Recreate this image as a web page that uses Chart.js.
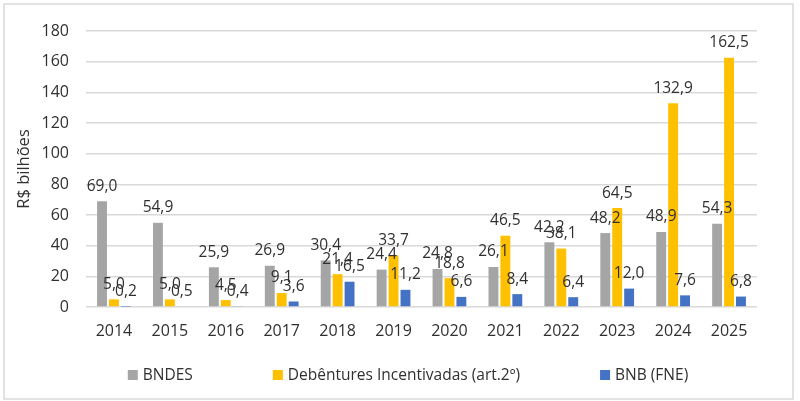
<!DOCTYPE html>
<html>
<head>
<meta charset="utf-8">
<script src="https://cdn.jsdelivr.net/npm/chart.js@4"></script>
<style>
  html, body { margin: 0; padding: 0; background: #ffffff; }
  #wrap { width: 800px; height: 401px; }
</style>
</head>
<body>
<div id="wrap"><canvas id="c" width="800" height="401"></canvas></div>
<script>
const years = ['2014','2015','2016','2017','2018','2019','2020','2021','2022','2023','2024','2025'];
const bndes = [69.0, 54.9, 25.9, 26.9, 30.4, 24.4, 24.8, 26.1, 42.2, 48.2, 48.9, 54.3];
const debentures = [5.0, 5.0, 4.5, 9.1, 21.4, 33.7, 18.8, 46.5, 38.1, 64.5, 132.9, 162.5];
const bnb = [0.2, 0.5, 0.4, 3.6, 16.5, 11.2, 6.6, 8.4, 6.4, 12.0, 7.6, 6.8];
const seriesNames = ['BNDES', 'Debêntures Incentivadas (art.2º)', 'BNB (FNE)'];
const seriesColors = ['#A5A5A5', '#FFC000', '#4472C4'];
const yTicks = [0, 20, 40, 60, 80, 100, 120, 140, 160, 180];
const yTitle = 'R$ bilhões';

const FONT = "'Open Sans', 'DejaVu Sans', sans-serif";
const TEXT = '#303030';

const frame = {
  id: 'frame',
  beforeDraw(chart) {
    const ctx = chart.ctx;
    ctx.save();
    ctx.fillStyle = '#ffffff';
    ctx.fillRect(0, 0, chart.width, chart.height);
    ctx.strokeStyle = '#D9D9D9';
    ctx.lineWidth = 1.5;
    ctx.strokeRect(4, 4, 789, 395);
    ctx.restore();
  }
};

const labels = {
  id: 'labels',
  afterDatasetsDraw(chart) {
    const ctx = chart.ctx;
    ctx.save();
    ctx.font = '15.5px ' + FONT;
    ctx.fillStyle = TEXT;
    ctx.textAlign = 'center';
    ctx.textBaseline = 'middle';
    chart.data.datasets.forEach((ds, di) => {
      const meta = chart.getDatasetMeta(di);
      meta.data.forEach((bar, i) => {
        const txt = ds.data[i].toFixed(1).replace('.', ',');
        ctx.fillText(txt, bar.x, bar.y - 15);
      });
    });
    ctx.restore();
  }
};

const legend = {
  id: 'customLegend',
  afterDraw(chart) {
    const ctx = chart.ctx;
    ctx.save();
    ctx.font = '15.5px ' + FONT;
    ctx.textBaseline = 'middle';
    ctx.textAlign = 'left';
    const box = 10, gapBox = 5, gap = 80;
    const widths = seriesNames.map(n => box + gapBox + ctx.measureText(n).width);
    const total = widths.reduce((a, b) => a + b, 0) + gap * (seriesNames.length - 1);
    let x = 408 - total / 2;
    const y = 375;
    seriesNames.forEach((n, i) => {
      ctx.fillStyle = seriesColors[i];
      ctx.fillRect(x, y - box / 2, box, box);
      ctx.fillStyle = TEXT;
      ctx.fillText(n, x + box + gapBox, y + 1);
      x += widths[i] + gap;
    });
    ctx.restore();
  }
};

new Chart(document.getElementById('c'), {
  type: 'bar',
  data: {
    labels: years,
    datasets: [
      { label: seriesNames[0], data: bndes, backgroundColor: seriesColors[0] },
      { label: seriesNames[1], data: debentures, backgroundColor: seriesColors[1] },
      { label: seriesNames[2], data: bnb, backgroundColor: seriesColors[2] }
    ]
  },
  options: {
    responsive: false,
    animation: false,
    devicePixelRatio: 1,
    layout: { padding: { top: 31, right: 43, bottom: 0, left: 14 } },
    datasets: { bar: { categoryPercentage: 0.64, barPercentage: 0.83 } },
    plugins: { legend: { display: false }, tooltip: { enabled: false } },
    scales: {
      x: {
        grid: { display: false, drawTicks: false },
        border: { display: false },
        ticks: { color: TEXT, font: { family: FONT, size: 16 }, padding: 15 },
        afterFit(s) { s.height = 94; }
      },
      y: {
        min: 0, max: 180,
        afterBuildTicks(s) { s.ticks = yTicks.map(v => ({ value: v })); },
        grid: { color: '#D9D9D9', lineWidth: 1.5, drawTicks: false },
        border: { display: false },
        ticks: { color: TEXT, font: { family: FONT, size: 16 }, padding: 17 },
        title: { display: true, text: yTitle, color: TEXT, font: { family: FONT, size: 16.5 }, padding: 0 },
        afterFit(s) { s.width = 72; }
      }
    }
  },
  plugins: [frame, labels, legend]
});
</script>
</body>
</html>
